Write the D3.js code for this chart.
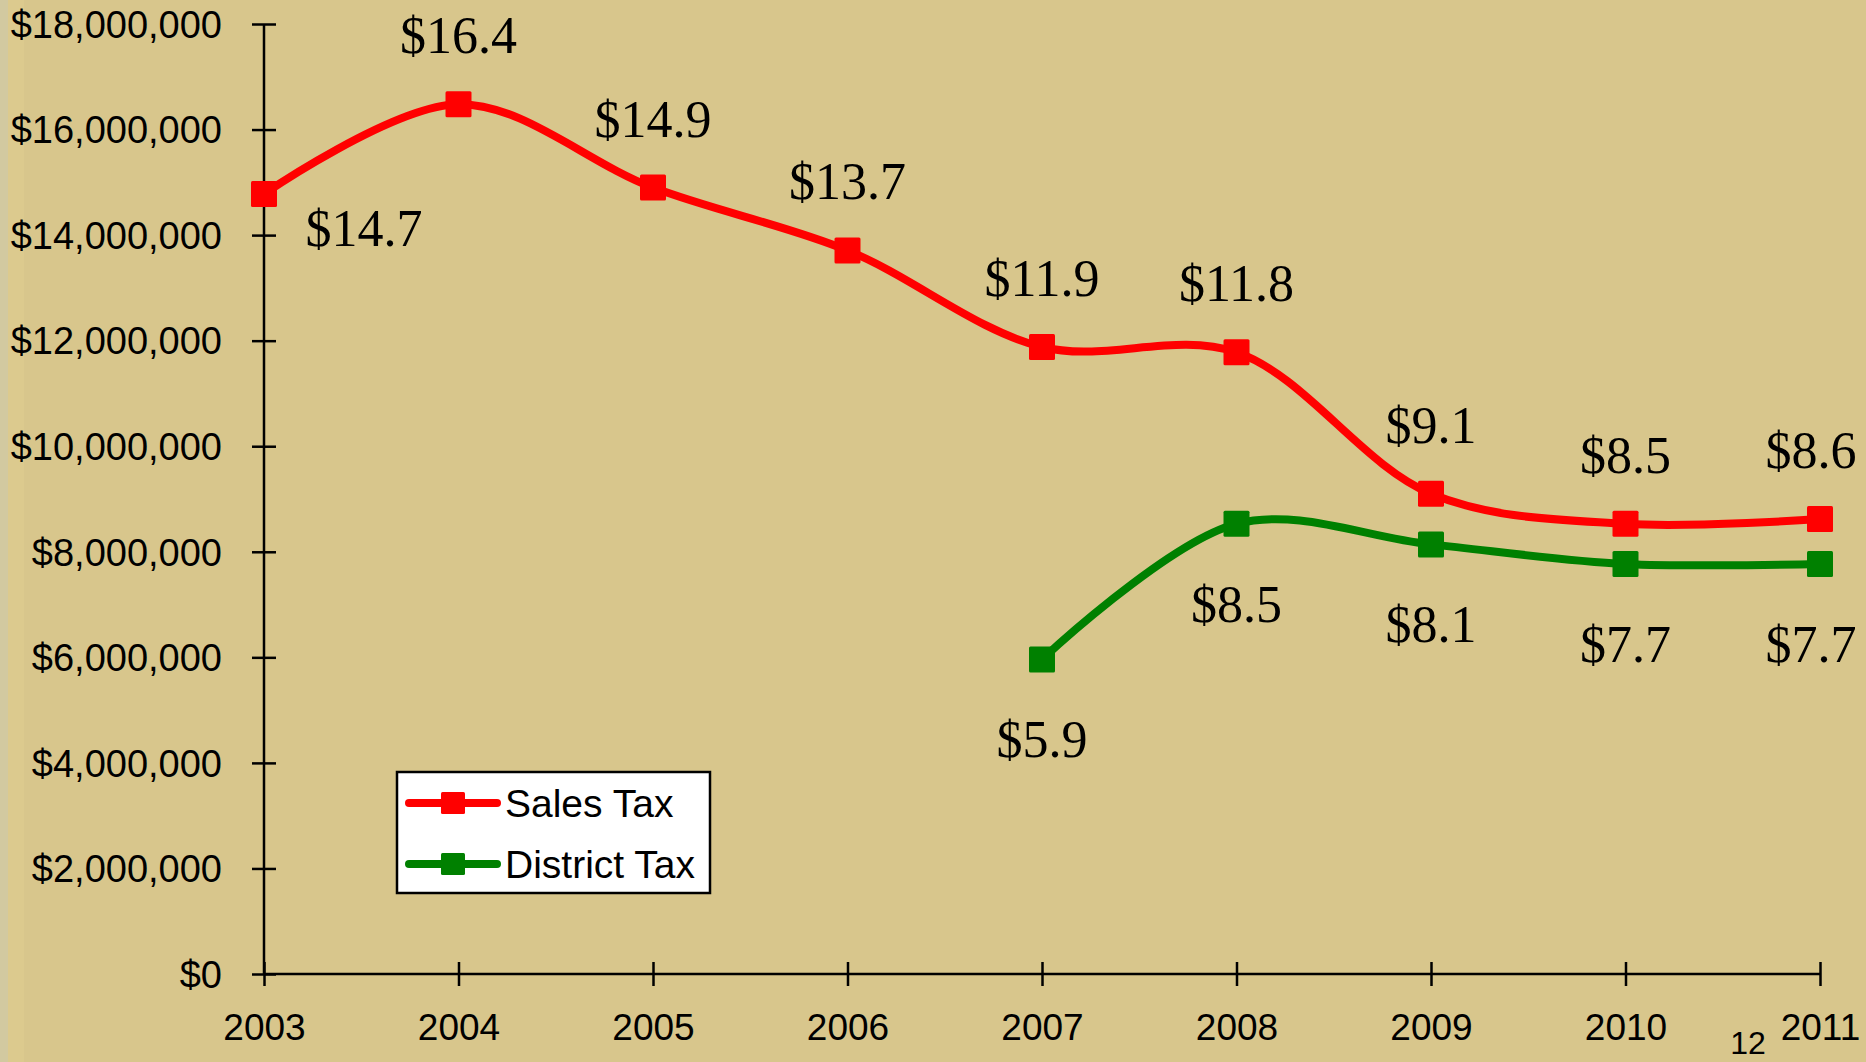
<!DOCTYPE html>
<html>
<head>
<meta charset="utf-8">
<script src="https://cdn.jsdelivr.net/npm/d3@7"></script>
<style>
  html, body { margin: 0; padding: 0; background: #D8C68C; }
  svg { display: block; }
</style>
</head>
<body>
<svg id="chart" width="1866" height="1062"></svg>
<script>
// ---- data ----
const years = ["2003", "2004", "2005", "2006", "2007", "2008", "2009", "2010", "2011"];
const salesTax = [14780000, 16480000, 14900000, 13710000, 11880000, 11780000, 9100000, 8530000, 8620000];
const salesLabels = ["$14.7", "$16.4", "$14.9", "$13.7", "$11.9", "$11.8", "$9.1", "$8.5", "$8.6"];
const districtTax = [null, null, null, null, 5960000, 8530000, 8140000, 7770000, 7770000];
const districtLabels = [null, null, null, null, "$5.9", "$8.5", "$8.1", "$7.7", "$7.7"];
const yTicks = [0, 2000000, 4000000, 6000000, 8000000, 10000000, 12000000, 14000000, 16000000, 18000000];
const seriesNames = ["Sales Tax", "District Tax"];
const pageNumber = "12";

// ---- layout ----
const W = 1866, H = 1062;
const svg = d3.select("#chart");

// background
svg.append("rect").attr("width", W).attr("height", H).attr("fill", "#D8C68C");
svg.append("rect").attr("x", 0).attr("y", 0).attr("width", 8).attr("height", H).attr("fill", "#D2C9A0");
svg.append("rect").attr("x", 8).attr("y", 0).attr("width", 16).attr("height", H).attr("fill", "#DCCA8E");

const x = d3.scalePoint().domain(years).range([264, 1820]);
const y = d3.scaleLinear().domain([0, 18000000]).range([974, 24]);

const sansFont = "'Liberation Sans', Arial, sans-serif";
const serifFont = "'Liberation Serif', 'Times New Roman', serif";

// ---- axes ----
const yAxis = d3.axisLeft(y).tickValues(yTicks).tickSize(0).tickPadding(0)
  .tickFormat(d => "$" + d3.format(",")(d));
const gy = svg.append("g").attr("transform", "translate(264,0)").call(yAxis);
gy.select(".domain").remove();
gy.selectAll(".tick text")
  .attr("x", -42).attr("dy", "0.35em")
  .attr("font-family", sansFont).attr("font-size", 38).attr("fill", "#000");
gy.selectAll(".tick").append("line")
  .attr("x1", -12).attr("x2", 12).attr("stroke", "#000").attr("stroke-width", 2.5);

const xAxis = d3.axisBottom(x).tickSize(0).tickPadding(0);
const gx = svg.append("g").attr("transform", "translate(0,974)").call(xAxis);
gx.select(".domain").remove();
gx.selectAll(".tick text")
  .attr("y", 66).attr("dy", 0)
  .attr("font-family", sansFont).attr("font-size", 37).attr("fill", "#000");
gx.selectAll(".tick").append("line")
  .attr("y1", -12).attr("y2", 12).attr("stroke", "#000").attr("stroke-width", 2.5);

// axis lines
svg.append("line").attr("x1", 264).attr("x2", 264).attr("y1", y(18000000)).attr("y2", y(0))
  .attr("stroke", "#000").attr("stroke-width", 2.5);
svg.append("line").attr("x1", 264).attr("x2", 1820).attr("y1", y(0)).attr("y2", y(0))
  .attr("stroke", "#000").attr("stroke-width", 2.5);

// ---- series ----
const series = [
  { name: seriesNames[0], values: salesTax, labels: salesLabels, color: "#FF0000", pos: "above" },
  { name: seriesNames[1], values: districtTax, labels: districtLabels, color: "#008000", pos: "below" }
];

const line = d3.line()
  .defined(d => d.v != null)
  .x(d => x(d.year)).y(d => y(d.v))
  .curve(d3.curveCatmullRom.alpha(0.5));

const M = 26;
series.forEach(s => {
  const pts = years.map((yr, i) => ({ year: yr, v: s.values[i], label: s.labels[i], i }))
    .filter(p => p.v != null);
  svg.append("path").datum(pts)
    .attr("d", line)
    .attr("fill", "none").attr("stroke", s.color).attr("stroke-width", 8)
    .attr("stroke-linejoin", "round").attr("stroke-linecap", "round");
  svg.append("g").selectAll("rect").data(pts).join("rect")
    .attr("x", d => x(d.year) - M / 2).attr("y", d => y(d.v) - M / 2)
    .attr("width", M).attr("height", M).attr("rx", 1.5)
    .attr("fill", s.color);
  svg.append("g").selectAll("text").data(pts).join("text")
    .attr("x", d => {
      let cx = x(d.year);
      if (s.pos === "above" && d.i === 0) cx += 100;
      if (d.i === years.length - 1) cx -= 9;
      return cx;
    })
    .attr("y", d => {
      if (s.pos === "above" && d.i === 0) return y(d.v) + 52;
      return s.pos === "above" ? y(d.v) - 51 : y(d.v) + 98;
    })
    .attr("text-anchor", "middle")
    .attr("font-family", serifFont).attr("font-size", 52).attr("fill", "#000")
    .text(d => d.label);
});

// ---- legend ----
const lg = svg.append("g");
lg.append("rect").attr("x", 397).attr("y", 772).attr("width", 313).attr("height", 121)
  .attr("fill", "#FFFFFF").attr("stroke", "#000").attr("stroke-width", 2.5);
series.forEach((s, i) => {
  const ly = 803 + i * 61;
  lg.append("line").attr("x1", 409).attr("x2", 497).attr("y1", ly).attr("y2", ly)
    .attr("stroke", s.color).attr("stroke-width", 8).attr("stroke-linecap", "round");
  lg.append("rect").attr("x", 441).attr("y", ly - 11).attr("width", 24).attr("height", 22)
    .attr("rx", 1.5).attr("fill", s.color);
  lg.append("text").attr("x", 505).attr("y", ly).attr("dy", "0.35em")
    .attr("font-family", sansFont).attr("font-size", 39).attr("fill", "#000")
    .text(s.name);
});

// page number
svg.append("text").attr("x", 1748).attr("y", 1054).attr("text-anchor", "middle")
  .attr("font-family", sansFont).attr("font-size", 32).attr("fill", "#000")
  .text(pageNumber);
</script>
</body>
</html>
